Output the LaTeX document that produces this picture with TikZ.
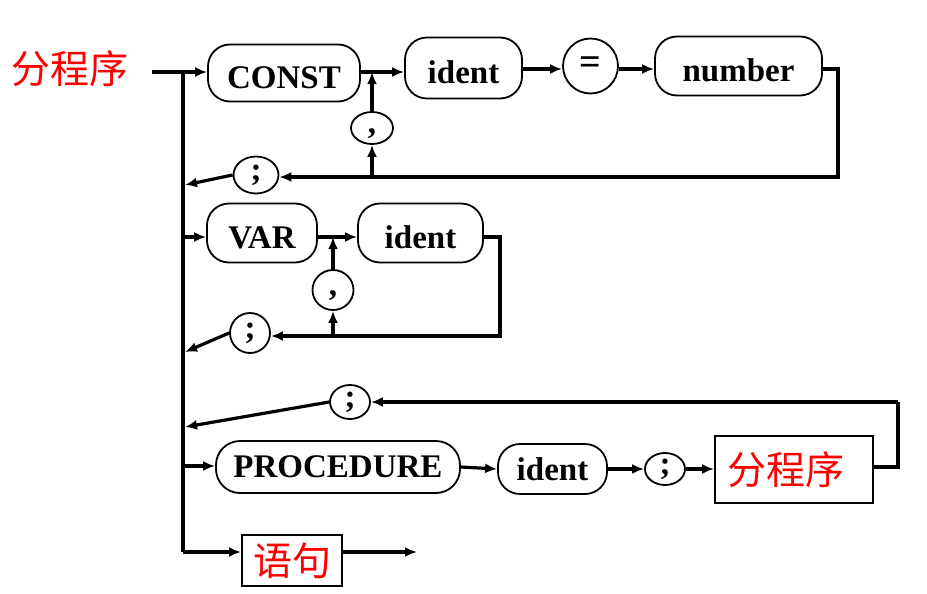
\documentclass[tikz,border=0pt]{standalone}
\usepackage{fontspec}
\setmainfont{Liberation Serif}
\newfontfamily\cjk{Noto Sans CJK SC}
\usetikzlibrary{arrows.meta,shapes.geometric}

\begin{document}
\begin{tikzpicture}[x=0.5pt, y=-0.5pt,
    conn/.style={line width=1.6pt, -{Latex[length=6pt,width=5pt]}},
    wire/.style={line width=1.6pt},
    term/.style={draw, line width=0.9pt, rounded corners=11pt, inner sep=0pt,
        font=\fontsize{16.5}{18}\selectfont\bfseries},
    drop/.style={text height=15.5pt, text depth=0pt},
    sym/.style={draw, ellipse, line width=0.9pt, inner sep=0pt,
        font=\fontsize{16.5}{18}\selectfont\bfseries},
    commasym/.style={sym, text height=5pt, text depth=0pt},
    nonterm/.style={draw, rectangle, line width=0.9pt, inner sep=0pt, text=red,
        font=\fontsize{19.5}{21}\selectfont\cjk}]
    \useasboundingbox (0,0) rectangle (927,594);

    % name of the rule
    \node[text=red, font=\fontsize{19.5}{21}\selectfont\cjk] (title) at (70,69) {分程序};
    \coordinate (start) at (152,72);
    \coordinate (jtop) at (183,72);
    \coordinate (jend) at (183,552);
    \draw[wire] (start) -- (jtop) -- (jend);

    % CONST ident = number {, ...} ;
    \node[term, drop, minimum width=76pt, minimum height=28.5pt] (const) at (284,73) {CONST};
    \node[term, drop, minimum width=58.5pt, minimum height=30.5pt] (ident1) at (463.5,68) {ident};
    \node[sym, minimum width=27.5pt, minimum height=27.5pt, font=\fontsize{19}{20}\selectfont\bfseries] (eq) at (590.5,66) {=};
    \node[term, drop, minimum width=83.5pt, minimum height=29.5pt] (number) at (738.5,66) {number};
    \node[commasym, minimum width=21pt, minimum height=16pt] (comma1) at (372,128) {,};
    \node[sym, minimum width=22.5pt, minimum height=18.5pt] (semi1) at (256,175) {;};
    \coordinate (jc) at (372,72);
    \coordinate (rc) at (838,69);
    \coordinate (bc) at (838,177);
    \coordinate (lc) at (372,177);
    \coordinate (back1) at (185,185);

    \draw[conn] (jtop) -- (const.west |- jtop);
    \draw[wire] (const.east |- jc) -- (jc);
    \draw[conn] (jc) -- (jc -| ident1.west);
    \draw[conn] (ident1.east |- 0,69) -- (eq.west |- 0,69);
    \draw[conn] (eq.east |- 0,69) -- (number.west |- 0,69);
    \draw[wire] (number.east |- rc) -- (rc) -- (bc) -- (lc);
    \draw[conn] (lc) -- (semi1.east |- lc);
    \draw[conn] (lc) -- (comma1.south);
    \draw[conn] (comma1.north) -- (jc);
    \draw[conn] (semi1.west) -- (back1);

    % VAR ident {, ident} ;
    \node[term, drop, minimum width=55pt, minimum height=29.5pt] (var) at (262,233) {VAR};
    \node[term, drop, minimum width=62.5pt, minimum height=29.5pt] (ident2) at (420.5,233) {ident};
    \node[commasym, minimum width=20.5pt, minimum height=20pt] (comma2) at (333,290) {,};
    \node[sym, minimum width=20pt, minimum height=20pt] (semi2) at (250,333) {;};
    \coordinate (jvar) at (183,237);
    \coordinate (jv) at (333,237);
    \coordinate (rv) at (500,237);
    \coordinate (bv) at (500,336);
    \coordinate (lv) at (333,336);
    \coordinate (back2) at (185,352);

    \draw[conn] (jvar) -- (var.west |- jvar);
    \draw[wire] (var.east |- jv) -- (jv);
    \draw[conn] (jv) -- (ident2.west |- jv);
    \draw[wire] (ident2.east |- rv) -- (rv) -- (bv) -- (lv);
    \draw[conn] (lv) -- (semi2.east |- lv);
    \draw[conn] (lv) -- (comma2.south);
    \draw[conn] (comma2.north) -- (jv);
    \draw[conn] (semi2.west) -- (back2);

    % PROCEDURE ident ; 分程序 ;
    \node[sym, minimum width=20pt, minimum height=17pt] (semi3) at (350,402) {;};
    \node[term, minimum width=122pt, minimum height=26pt, rounded corners=12pt] (proc) at (338,467) {PROCEDURE};
    \node[term, minimum width=54.5pt, minimum height=25pt] (ident3) at (552.5,469) {ident};
    \node[sym, minimum width=20pt, minimum height=16pt] (semi4) at (665,469) {;};
    \node[nonterm, inner xsep=6pt, text width=67pt, align=left, minimum height=33.5pt] (sub) at (794,469.5) {分程序};
    \coordinate (jproc) at (183,466);
    \coordinate (rp) at (898,467);
    \coordinate (tp) at (898,402);
    \coordinate (back3) at (185,427);

    \draw[conn] (jproc) -- (proc.west |- jproc);
    \draw[conn] (proc.east) -- (ident3.west);
    \draw[conn] (ident3.east) -- (semi4.west);
    \draw[conn] (semi4.east) -- (sub.west |- semi4);
    \draw[wire] (sub.east |- rp) -- (rp) -- (tp);
    \draw[conn] (tp) -- (semi3.east);
    \draw[conn] (semi3.west) -- (back3);

    % 语句
    \node[nonterm, minimum width=50pt, minimum height=25.5pt] (stmt) at (292,560.5) {语句};
    \coordinate (out) at (417,552);
    \draw[conn] (jend) -- (stmt.west |- jend);
    \draw[conn] (stmt.east |- out) -- (out);
\end{tikzpicture}
\end{document}
